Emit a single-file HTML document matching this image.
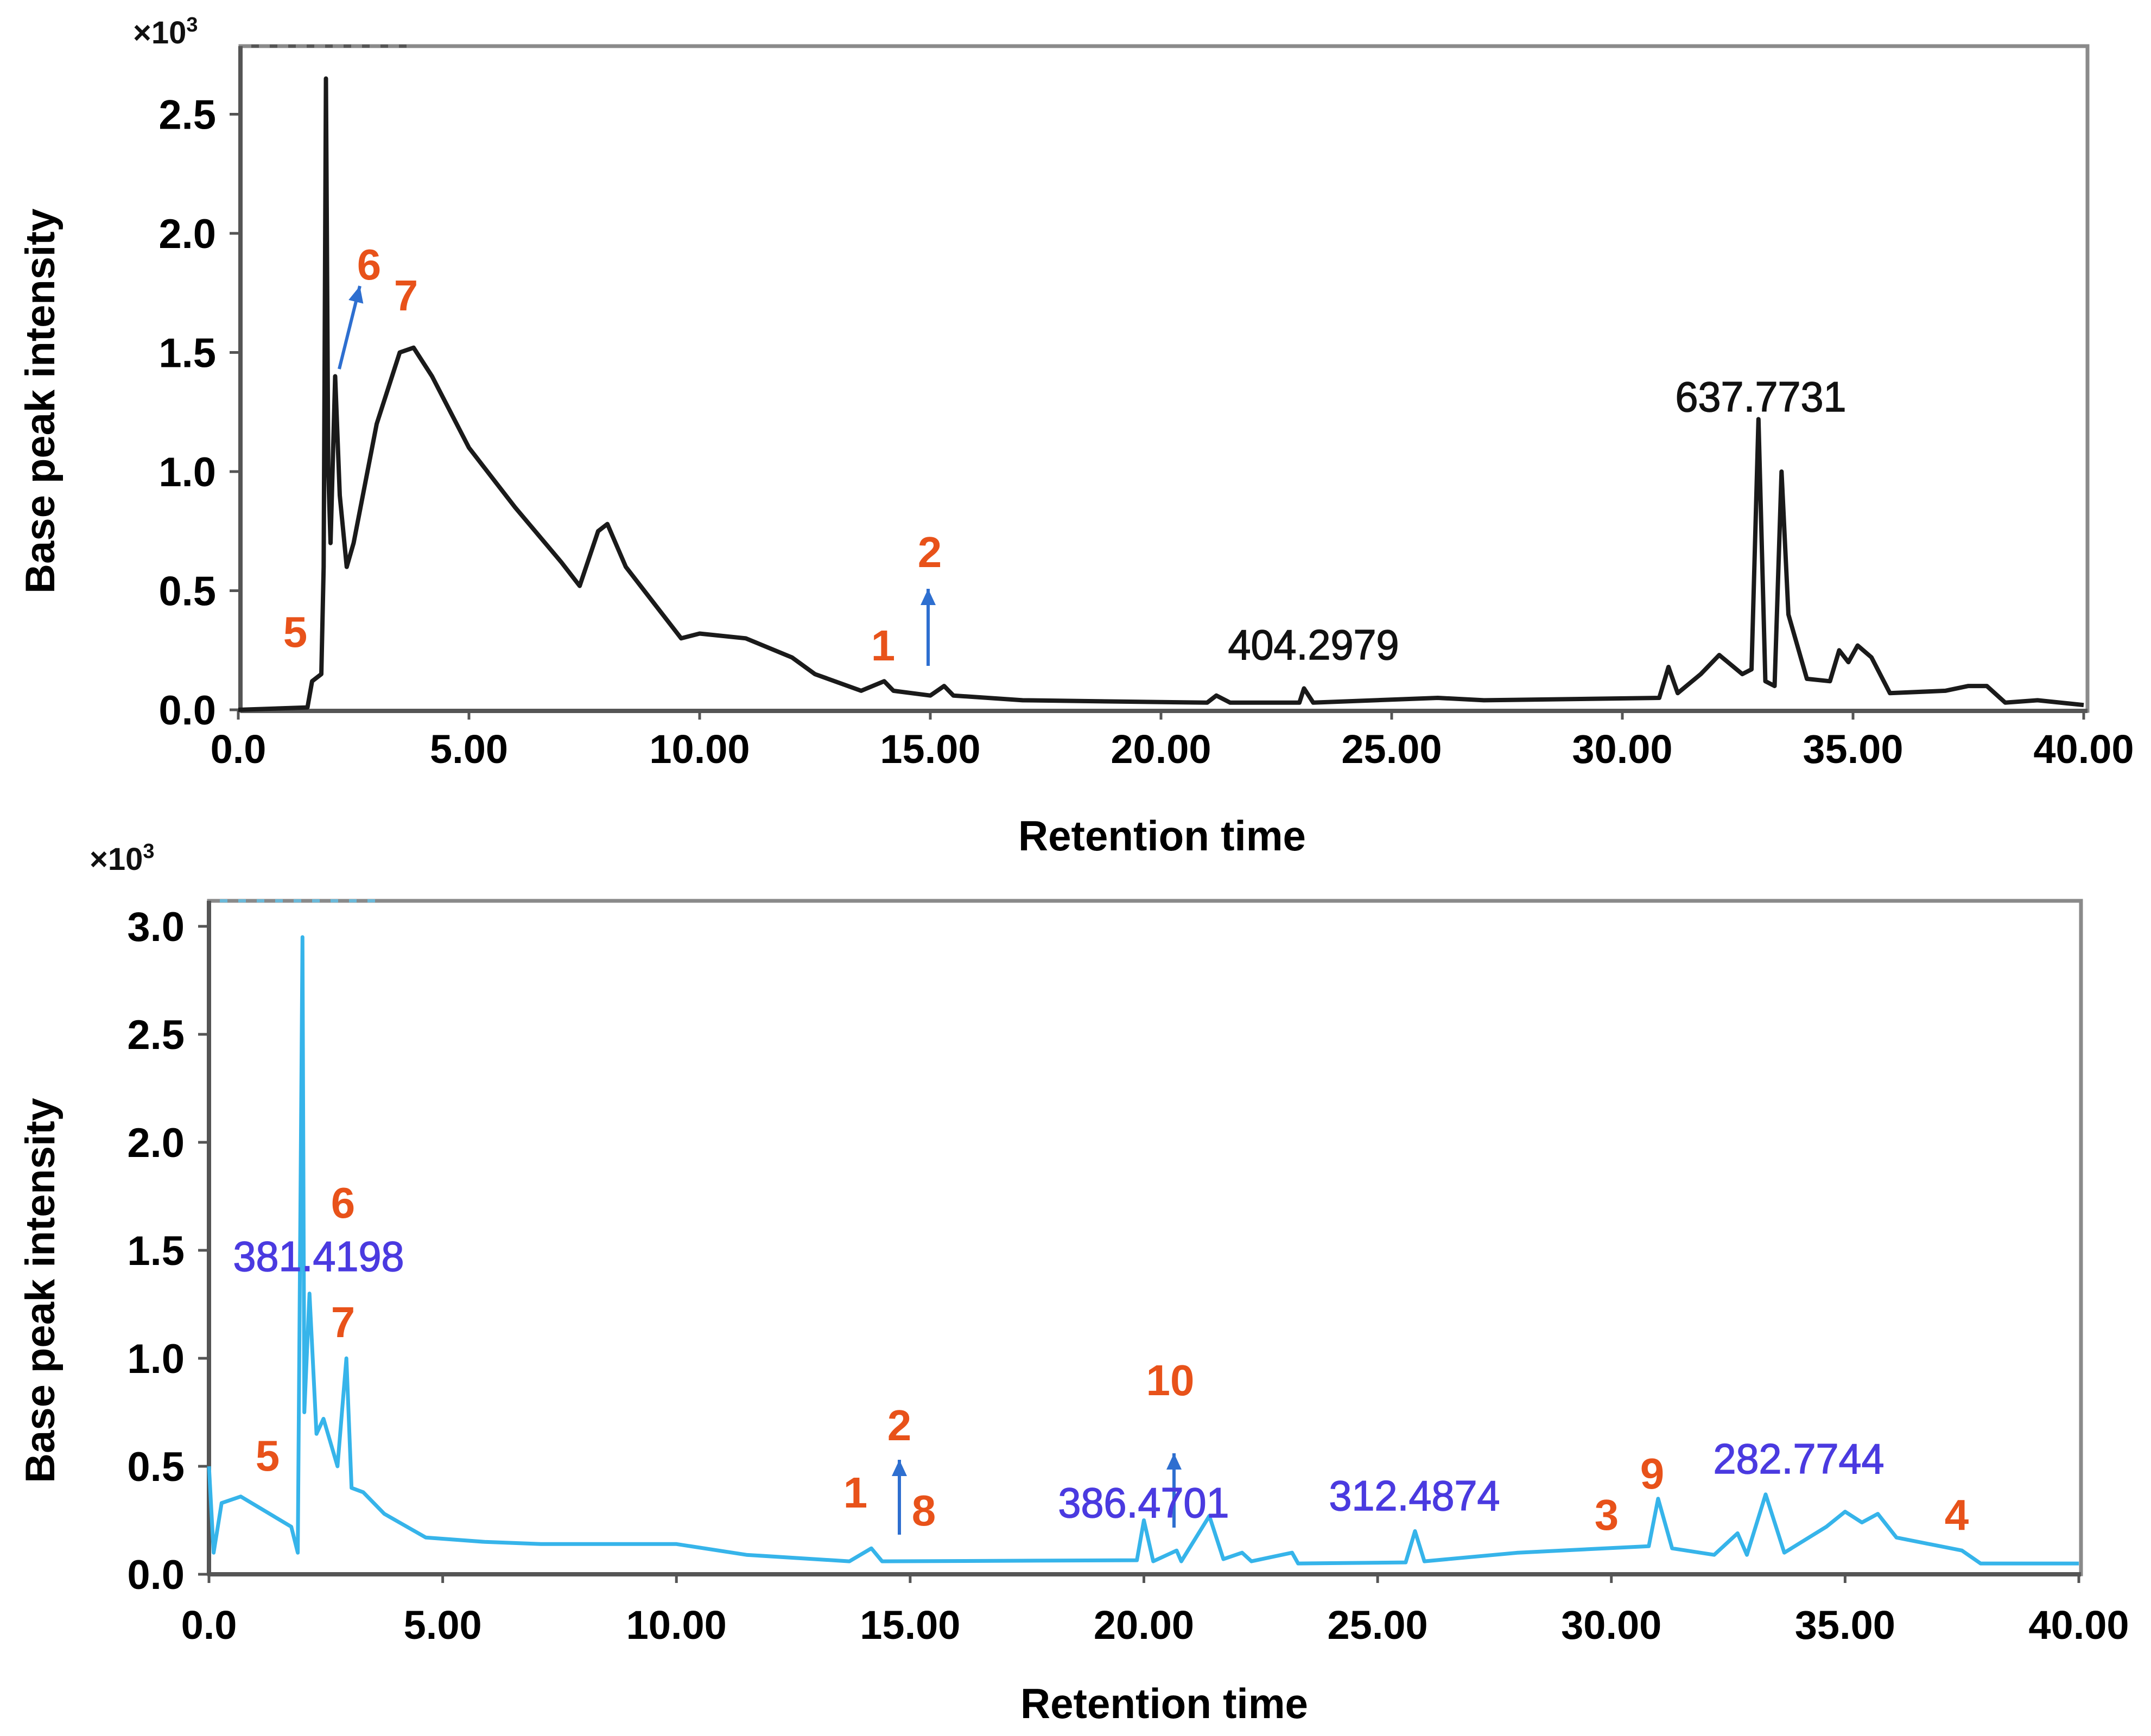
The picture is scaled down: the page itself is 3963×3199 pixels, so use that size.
<!DOCTYPE html>
<html><head><meta charset="utf-8"><style>
html,body{margin:0;padding:0;background:#fff;}
svg{display:block;font-family:"Liberation Sans",Arial,sans-serif;}
</style></head><body>
<svg id="fig" width="3963" height="3199" viewBox="0 0 3963 3199" xmlns="http://www.w3.org/2000/svg"></svg>
<script>
// ---- data: top chromatogram (black) ----
const topTimes = [0,1.5,1.6,1.8,1.85,1.9,1.95,2.0,2.1,2.2,2.35,2.5,3.0,3.5,3.8,4.2,5,6,7,7.4,7.8,8.0,8.4,9,9.6,10,11,12,12.5,13.5,14,14.2,15,15.3,15.5,17,21,21.2,21.5,23,23.1,23.3,26,27,30.8,31,31.2,31.7,32.1,32.6,32.8,32.95,33.1,33.3,33.45,33.6,34,34.5,34.7,34.9,35.1,35.4,35.8,37,37.5,37.9,38.3,39,40];
const topValues = [0.0,0.01,0.12,0.15,0.6,2.65,1.0,0.7,1.4,0.9,0.6,0.7,1.2,1.5,1.52,1.4,1.1,0.85,0.62,0.52,0.75,0.78,0.6,0.45,0.3,0.32,0.3,0.22,0.15,0.08,0.12,0.08,0.06,0.1,0.06,0.04,0.03,0.06,0.03,0.03,0.09,0.03,0.05,0.04,0.05,0.18,0.07,0.15,0.23,0.15,0.17,1.22,0.12,0.1,1.0,0.4,0.13,0.12,0.25,0.2,0.27,0.22,0.07,0.08,0.1,0.1,0.03,0.04,0.02];
// ---- data: bottom chromatogram (blue) ----
const botTimes = [0,0.1,0.27,0.68,1.76,1.9,2.0,2.04,2.15,2.3,2.45,2.75,2.94,3.05,3.3,3.75,4.64,5.9,7.1,10,11.5,13.7,14.17,14.4,19.85,20.0,20.2,20.7,20.8,21.4,21.7,22.1,22.3,23.17,23.3,25.6,25.8,26.0,28.0,30.8,31.0,31.3,32.2,32.7,32.9,33.3,33.7,34.6,35.0,35.36,35.7,36.1,37.5,37.9,40];
const botValues = [0.5,0.1,0.33,0.36,0.22,0.1,2.95,0.75,1.3,0.65,0.72,0.5,1.0,0.4,0.38,0.28,0.17,0.15,0.14,0.14,0.09,0.06,0.12,0.06,0.065,0.25,0.06,0.11,0.06,0.27,0.07,0.1,0.06,0.1,0.05,0.055,0.2,0.06,0.1,0.13,0.35,0.12,0.09,0.19,0.09,0.37,0.1,0.22,0.29,0.24,0.28,0.17,0.11,0.05,0.05];
const xTickValues = [0,5,10,15,20,25,30,35,40];
const xTickLabels = ["0.0","5.00","10.00","15.00","20.00","25.00","30.00","35.00","40.00"];
const topYTicks = [0,0.5,1.0,1.5,2.0,2.5];
const topYLabels = ["0.0","0.5","1.0","1.5","2.0","2.5"];
const botYTicks = [0,0.5,1.0,1.5,2.0,2.5,3.0];
const botYLabels = ["0.0","0.5","1.0","1.5","2.0","2.5","3.0"];

const NS="http://www.w3.org/2000/svg";
const svg=document.getElementById('fig');
function mk(tag,attrs,parent){const e=document.createElementNS(NS,tag);for(const k in attrs)e.setAttribute(k,attrs[k]);(parent||svg).appendChild(e);return e;}
function txt(s,attrs,parent){const e=mk('text',attrs,parent);e.textContent=s;return e;}

function panel(cfg){
  const g=mk('g',{});
  
  
  const xs=t=>cfg.x0+(t/40)*(cfg.x40-cfg.x0);
  const ys=v=>cfg.y0-v*cfg.yUnit;
  const fr=mk('rect',{x:cfg.fl,y:cfg.ft,width:cfg.fr-cfg.fl,height:cfg.fb-cfg.ft,fill:'none',stroke:'#8a8a8a','stroke-width':7},g);
  
  
  mk('line',{x1:cfg.fl,y1:cfg.fb,x2:cfg.fr,y2:cfg.fb,stroke:'#555','stroke-width':8},g);
  mk('line',{x1:cfg.fl,y1:cfg.ft,x2:cfg.fl,y2:cfg.fb,stroke:'#555','stroke-width':8},g);
  mk('line',{x1:cfg.fl+20,y1:cfg.ft,x2:cfg.fl+320,y2:cfg.ft,stroke:cfg.dash,'stroke-width':6,'stroke-dasharray':'14 20'},g);
  xTickValues.forEach((t,i)=>{
    const x=xs(t);
    const tk=mk('line',{x1:x,y1:cfg.fb,x2:x,y2:cfg.fb+16,stroke:'#555','stroke-width':5},g);
    
    
    const l=txt(xTickLabels[i],{x:x,y:cfg.xLabY,'font-size':74,'font-weight':'bold','text-anchor':'middle',fill:'#000'},g);
    
    
  });
  cfg.yTicks.forEach((v,i)=>{
    const y=ys(v);
    const tk=mk('line',{x1:cfg.fl-20,y1:y,x2:cfg.fl,y2:y,stroke:'#555','stroke-width':5},g);
    
    
    const l=txt(cfg.yLabels[i],{x:cfg.fl-45,y:y+27,'font-size':76,'font-weight':'bold','text-anchor':'end',fill:'#000'},g);
    
    
  });
  const mult=txt('×10',{x:cfg.multX,y:cfg.multY,'font-size':58,'font-weight':'bold',fill:'#111'},g);
  
  
  const sup=mk('tspan',{dy:-22,'font-size':38},mult); sup.textContent='3';
  const yt=txt('Base peak intensity',{x:0,y:0,'font-size':76,'font-weight':'bold','text-anchor':'middle',fill:'#000',transform:`translate(${cfg.ytX},${cfg.ytY}) rotate(-90)`},g);
  
  
  const xt=txt('Retention time',{x:cfg.xtX,y:cfg.xtY,'font-size':78,'font-weight':'bold','text-anchor':'middle',fill:'#000',textLength:530,lengthAdjust:'spacingAndGlyphs'},g);
  
  
  const pts=cfg.times.map((t,i)=>xs(t).toFixed(1)+','+ys(cfg.values[i]).toFixed(1)).join(' ');
  const pl=mk('polyline',{points:pts,fill:'none',stroke:cfg.color,'stroke-width':cfg.sw,'stroke-linejoin':'round'},g);
  
  
  return g;
}

panel({name:'top-chromatogram',x0:439,x40:3839,y0:1308,yUnit:439,fl:443,ft:85,fr:3846,fb:1310,
  yTicks:topYTicks,yLabels:topYLabels,xLabY:1406,multX:245,multY:80,ytX:100,ytY:739,xtX:2141,xtY:1567,
  times:topTimes,values:topValues,color:'#1a1a1a',sw:8,seriesName:'top-series-line',dash:'#555'});
panel({name:'bottom-chromatogram',x0:385,x40:3830,y0:2901,yUnit:398,fl:385,ft:1660,fr:3834,fb:2901,
  yTicks:botYTicks,yLabels:botYLabels,xLabY:3020,multX:165,multY:1603,ytX:100,ytY:2378,xtX:2145,xtY:3166,
  times:botTimes,values:botValues,color:'#36b4ea',sw:7,seriesName:'bottom-series-line',dash:'#6bb8d8'});

function orange(s,x,y,name){const t=txt(s,{x:x,y:y,'font-size':80,'font-weight':'bold','text-anchor':'middle',fill:'#e8521a'});
  
  }
function mass(s,x,y,col,name){const t=txt(s,{x:x,y:y,'font-size':78,'text-anchor':'middle',fill:col,stroke:col,'stroke-width':1.5,textLength:315,lengthAdjust:'spacingAndGlyphs'});
  
  }
function arrow(x1,y1,x2,y2,name){
  const g=mk('g',{});
  
  
  mk('line',{x1:x1,y1:y1,x2:x2,y2:y2,stroke:'#2e6fd0','stroke-width':6},g);
  const a=Math.atan2(y2-y1,x2-x1),L=30,W=14;
  const bx=x2-L*Math.cos(a),by=y2-L*Math.sin(a);
  mk('polygon',{points:`${x2},${y2} ${bx+W*Math.sin(a)},${by-W*Math.cos(a)} ${bx-W*Math.sin(a)},${by+W*Math.cos(a)}`,fill:'#2e6fd0'},g);
}
orange('5',544,1192,'peak-label-5-top');
orange('6',680,515,'peak-label-6-top');
orange('7',748,572,'peak-label-7-top');
orange('1',1627,1217,'peak-label-1-top');
orange('2',1713,1045,'peak-label-2-top');
arrow(625,680,663,527,'arrow-6-top');
arrow(1710,1227,1710,1085,'arrow-2-top');
mass('404.2979',2420,1215,'#111','mass-label-404');
mass('637.7731',3244,758,'#111','mass-label-637');
orange('5',493,2710,'peak-label-5-bottom');
orange('6',632,2244,'peak-label-6-bottom');
mass('381.4198',587,2342,'#4a3ae0','mass-label-381');
orange('7',632,2464,'peak-label-7-bottom');
orange('1',1576,2778,'peak-label-1-bottom');
orange('2',1657,2654,'peak-label-2-bottom');
arrow(1657,2828,1657,2690,'arrow-2-bottom');
orange('8',1702,2811,'peak-label-8-bottom');
orange('10',2156,2571,'peak-label-10-bottom');
arrow(2163,2815,2163,2678,'arrow-10-bottom');
mass('386.4701',2107,2796,'#4a3ae0','mass-label-386');
mass('312.4874',2606,2783,'#4a3ae0','mass-label-312');
orange('3',2960,2819,'peak-label-3-bottom');
orange('9',3044,2743,'peak-label-9-bottom');
mass('282.7744',3314,2715,'#4a3ae0','mass-label-282');
orange('4',3605,2819,'peak-label-4-bottom');
</script>
</body></html>
